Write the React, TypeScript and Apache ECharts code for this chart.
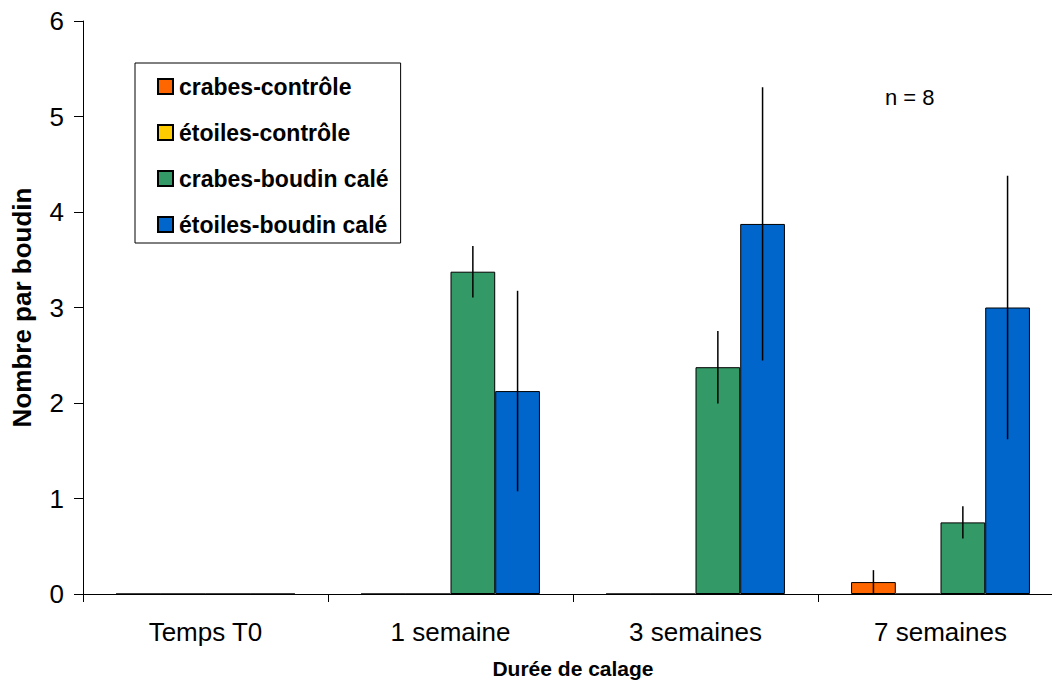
import React, { useEffect, useRef } from "react";
import * as echarts from "echarts";

const categories = ["Temps T0", "1 semaine", "3 semaines", "7 semaines"];
const seriesNames = ["crabes-contrôle", "étoiles-contrôle", "crabes-boudin calé", "étoiles-boudin calé"];
const seriesColors = ["#FF6600", "#FFCC00", "#339966", "#0066CC"];
const crabesControle = [0, 0, 0, 0.125];
const etoilesControle = [0, 0, 0, 0];
const crabesBoudin = [0, 3.375, 2.375, 0.75];
const etoilesBoudin = [0, 2.125, 3.875, 3.0];
const errCrabesControle = [0, 0, 0, 0.125];
const errEtoilesControle = [0, 0, 0, 0];
const errCrabesBoudin = [0, 0.27, 0.38, 0.17];
const errEtoilesBoudin = [0, 1.05, 1.43, 1.38];
const yTicks = [0, 1, 2, 3, 4, 5, 6];

const FONT = "'Liberation Sans', Arial, sans-serif";
const GAP = 0.27;

export default function App() {
  const ref = useRef<HTMLDivElement>(null);
  useEffect(() => {
    if (!ref.current) return;
    const chart = echarts.init(ref.current, null, { renderer: "svg" });
    const values = [crabesControle, etoilesControle, crabesBoudin, etoilesBoudin];
    const errs = [errCrabesControle, errEtoilesControle, errCrabesBoudin, errEtoilesBoudin];
    const errData: number[][] = [];
    values.forEach((vals, s) => {
      vals.forEach((v, i) => {
        if (errs[s][i] > 0) errData.push([i, v, errs[s][i], s]);
      });
    });
    const barSeries = values.map((vals, s) => ({
      name: seriesNames[s],
      type: "bar",
      data: vals,
      barGap: "0%",
      barCategoryGap: GAP * 100 + "%",
      itemStyle: { color: seriesColors[s], borderColor: "#000", borderWidth: 1 },
    }));
    chart.setOption({
      animation: false,
      backgroundColor: "#fff",
      grid: { left: 83, right: 17, top: 21, bottom: 94 },
      legend: {
        orient: "vertical",
        left: 135,
        top: 63,
        padding: [12, 12, 7, 22],
        itemGap: 23,
        itemWidth: 15,
        itemHeight: 15,
        icon: "rect",
        borderColor: "#000",
        borderWidth: 1,
        backgroundColor: "#fff",
        data: seriesNames,
        textStyle: {
          fontFamily: FONT,
          fontSize: 23,
          lineHeight: 23,
          fontWeight: "bold",
          color: "#000",
          padding: [0, 0, 0, 1],
        },
      },
      xAxis: {
        type: "category",
        data: categories,
        name: "Durée de calage",
        nameLocation: "middle",
        nameGap: 64,
        nameTextStyle: { fontFamily: FONT, fontSize: 21, fontWeight: "bold", color: "#000" },
        axisLine: { lineStyle: { color: "#000", width: 1 } },
        axisTick: { show: true, length: 8, alignWithLabel: false, lineStyle: { color: "#000" } },
        axisLabel: { fontFamily: FONT, fontSize: 26, color: "#000", margin: 25 },
      },
      yAxis: {
        type: "value",
        min: 0,
        max: 6,
        interval: 1,
        name: "Nombre par boudin",
        nameLocation: "middle",
        nameGap: 48,
        nameTextStyle: { fontFamily: FONT, fontSize: 26, fontWeight: "bold", color: "#000" },
        axisLine: { show: true, lineStyle: { color: "#000", width: 1 } },
        axisTick: { show: true, length: 9, lineStyle: { color: "#000" } },
        splitLine: { show: false },
        axisLabel: {
          fontFamily: FONT,
          fontSize: 26,
          color: "#000",
          margin: 19,
          formatter: (v: number) => (yTicks.includes(v) ? String(v) : ""),
        },
      },
      series: [
        ...barSeries,
        {
          type: "custom",
          name: "err",
          data: errData,
          z: 10,
          silent: true,
          renderItem: (params: any, api: any) => {
            const idx = api.value(0);
            const mean = api.value(1);
            const e = api.value(2);
            const slot = api.value(3);
            const band = api.size([1, 0])[0];
            const bw = (band * (1 - GAP)) / 4;
            const c = api.coord([idx, mean]);
            const x = c[0] - 2 * bw + bw * (slot + 0.5);
            const top = api.coord([idx, mean + e])[1];
            const bot = api.coord([idx, Math.max(0, mean - e)])[1];
            return {
              type: "line",
              shape: { x1: x, y1: top, x2: x, y2: bot },
              style: { stroke: "#000", lineWidth: 1.5 },
            };
          },
        },
      ],
      graphic: [
        {
          type: "text",
          left: 885,
          top: 86,
          style: { text: "n = 8", fontFamily: FONT, fontSize: 22, fill: "#000" },
        },
      ],
    });
    return () => chart.dispose();
  }, []);
  return (
    <div style={{ position: "fixed", left: 0, top: 0, width: 1052, height: 688, overflow: "hidden", background: "#fff" }}>
      <div ref={ref} style={{ width: 1080, height: 688 }} />
    </div>
  );
}
